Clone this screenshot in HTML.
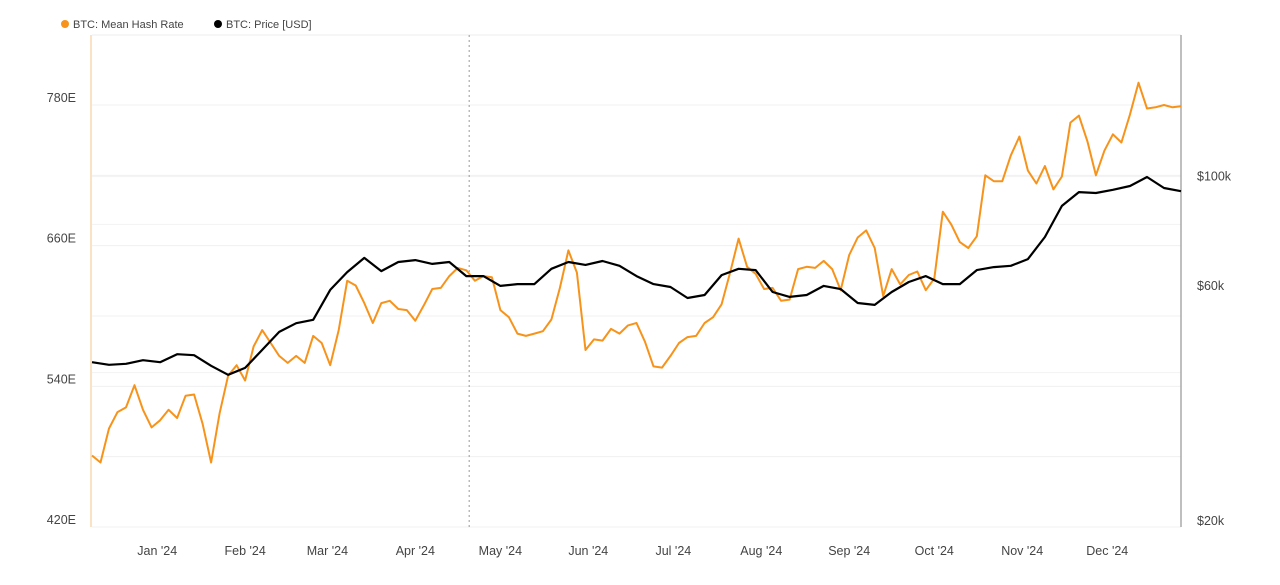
<!DOCTYPE html>
<html><head><meta charset="utf-8"><style>
body{margin:0;background:#fff;font-family:"Liberation Sans",sans-serif}
svg text{font-family:"Liberation Sans",sans-serif}
</style></head><body>
<svg id="chart" width="1280" height="580" xmlns="http://www.w3.org/2000/svg">
<g>
<g><circle cx="65" cy="24" r="4" fill="#f7931a"/><text x="73" y="28" font-size="11" fill="#444">BTC: Mean Hash Rate</text></g>
<g><circle cx="218" cy="24" r="4" fill="#000"/><text x="226" y="28" font-size="11" fill="#444">BTC: Price [USD]</text></g>
</g>
<g id="grid"></g>
<line x1="92" y1="35" x2="1181" y2="35" stroke="#eee"/>
<line x1="91" y1="35" x2="91" y2="527" stroke="#fbd9b0" stroke-width="1.5"/>
<line x1="1181" y1="35" x2="1181" y2="527" stroke="#aaa" stroke-width="1.5"/>
<line id="halving" y1="35" y2="527" stroke="#999" stroke-dasharray="2,3"/>
<g id="yl"></g>
<g id="yr"></g>
<g id="xa"></g>
<path id="hash" fill="none" stroke="#f7931a" stroke-width="2" stroke-linejoin="round"/>
<path id="price" fill="none" stroke="#000" stroke-width="2.2" stroke-linejoin="round"/>
</svg>
<script>
const hashStepDays = 3;
const hashValues = [481,475,504,518,522,541,520,505,511,520,513,532,533,508,475,517,549,558,545,574,588,577,566,560,566,560,583,577,558,588,630,626,611,594,611,613,606,605,596,609,623,624,634,641,639,630,634,633,605,599,585,583,585,587,597,624,656,637,571,580,579,589,585,592,594,578,557,556,566,577,582,583,594,599,610,637,666,642,636,623,624,613,614,640,642,641,647,640,622,652,667,673,658,617,640,627,635,638,622,632,689,678,663,658,668,720,715,715,737,753,724,713,728,708,719,765,771,749,720,741,755,748,772,799,777,778,780,778,779];
const priceStepDays = 6;
const priceValues = [42.0,41.5,41.7,42.4,42.0,43.6,43.4,41.3,39.6,40.9,44.5,48.4,50.4,51.2,58.9,64.0,68.4,64.3,67.1,67.7,66.5,67.1,62.8,62.8,60.0,60.5,60.5,65.0,67.1,66.2,67.4,65.9,62.8,60.5,59.7,56.7,57.5,63.1,65.0,64.6,58.3,57.0,57.5,60.0,59.1,55.4,54.9,58.3,61.1,62.8,60.5,60.5,64.6,65.5,65.9,68.0,75.4,87.2,93.0,92.6,94.0,95.7,99.8,94.8,93.4];
const monthLabels = ["Jan '24","Feb '24","Mar '24","Apr '24","May '24","Jun '24","Jul '24","Aug '24","Sep '24","Oct '24","Nov '24","Dec '24"];
const monthStartDays = [23,54,83,114,144,175,205,236,267,297,328,358];
const halvingDay = 133;
const leftTicks = [420,540,660,780];
const leftGrid = [420,480,540,600,660,720,780];
const rightTicks = [20,60,100];
const rightTickLabels = ["$20k","$60k","$100k"];
const rightGrid = [40,80,100];

const X0=92,X1=1181,DAYS=384,Y0=527,Y1=105;
const x=d=>X0+(X1-X0)*d/DAYS;
const yL=v=>Y0-(v-420)*(Y0-Y1)/360;
const yR=p=>521-Math.log(p/20)*214;
const NS="http://www.w3.org/2000/svg";
function mk(tag,attrs,parent,txt){const e=document.createElementNS(NS,tag);for(const k in attrs)e.setAttribute(k,attrs[k]);if(txt!==undefined)e.textContent=txt;parent.appendChild(e);return e;}
const grid=document.getElementById('grid');
leftGrid.forEach(v=>{const l=mk('line',{x1:X0,x2:X1,y1:yL(v),y2:yL(v),stroke:'#f0f0f0'},grid);

});
rightGrid.forEach(v=>{const l=mk('line',{x1:X0,x2:X1,y1:yR(v),y2:yR(v),stroke:'#f2f2f2'},grid);

});
const yl=document.getElementById('yl');
leftTicks.forEach(v=>{const t=mk('text',{x:76,y:yL(v)-3,'text-anchor':'end','font-size':12.5,fill:'#444'},yl,v+'E');

});
const yr=document.getElementById('yr');
rightTicks.forEach((v,i)=>{const t=mk('text',{x:1197,y:yR(v)+4,'font-size':12.5,fill:'#444'},yr,rightTickLabels[i]);

});
const xa=document.getElementById('xa');
monthLabels.forEach((m,i)=>{const t=mk('text',{x:x(monthStartDays[i]),y:555,'text-anchor':'middle','font-size':12.5,fill:'#444'},xa,m);

});
const hv=document.getElementById('halving');hv.setAttribute('x1',x(halvingDay));hv.setAttribute('x2',x(halvingDay));
document.getElementById('hash').setAttribute('d',hashValues.map((v,i)=>(i?'L':'M')+x(i*hashStepDays).toFixed(1)+','+yL(v).toFixed(1)).join(''));
document.getElementById('price').setAttribute('d',priceValues.map((v,i)=>(i?'L':'M')+x(i*priceStepDays).toFixed(1)+','+yR(v).toFixed(1)).join(''));
</script>
</body></html>
